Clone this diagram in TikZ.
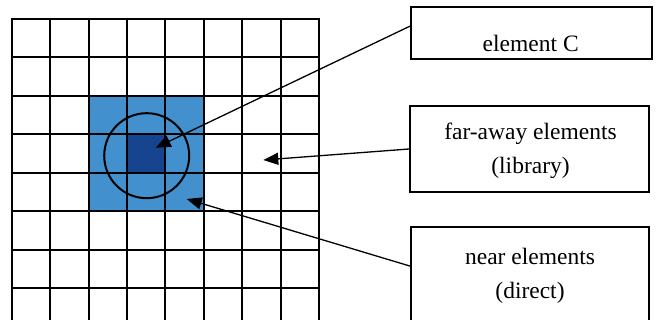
\documentclass[tikz,border=0pt]{standalone}
\usepackage{fontspec}
\setmainfont{Liberation Serif}
\usetikzlibrary{arrows.meta,calc}

\definecolor{nearblue}{RGB}{66,144,206}
\definecolor{centerblue}{RGB}{22,68,142}

\tikzset{
  gridline/.style={line width=2pt, black},
  labelbox/.style={draw=black, line width=1.8pt, rectangle, inner sep=0pt},
  labeltext/.style={font=\fontsize{23.5}{34}\selectfont, anchor=base, inner sep=0pt, align=center},
  pointer/.style={line width=1.3pt, -{Triangle[length=15pt,width=12pt]}},
  ringstyle/.style={draw=black, line width=2pt, circle, inner sep=0pt, minimum size=85pt}
}

\begin{document}
\begin{tikzpicture}[x=1pt,y=-1pt]
  \useasboundingbox (0,0) rectangle (656,320);
  \clip (0,0) rectangle (656,320);
  \fill[white] (0,0) rectangle (656,320);

  % neighbourhood cells and the central element
  \fill[nearblue] (88.52,95.9) rectangle (203.75,211.25);
  \fill[centerblue] (126.93,134.35) rectangle (165.34,172.8);

  % 8 x 8 grid of elements
  \foreach \i in {0,...,8} {
    \draw[gridline] ({11.7+38.41*\i},18) -- ({11.7+38.41*\i},330);
  }
  \foreach \j in {0,...,7} {
    \draw[gridline] (10.7,{19+38.45*\j}) -- (320,{19+38.45*\j});
  }

  % near-field radius
  \node[ringstyle] (ring) at (146.7,155.7) {};

  % explanation boxes
  \node[labelbox, minimum width=241pt, minimum height=52pt] (boxC) at (531.5,33) {};
  \node[labelbox, minimum width=239pt, minimum height=86pt] (boxF) at (529.5,149) {};
  \node[labelbox, minimum width=238pt, minimum height=113pt] (boxN) at (530,283.5) {};

  % box captions (anchor = baseline of the last line)
  \node[labeltext] (txtC) at (530.7,51.5) {element C};
  \node[labeltext] (txtF) at (530.5,174) {far-away elements\\(library)};
  \node[labeltext] (txtN) at (530,299) {near elements\\(direct)};

  % arrow targets inside the grid
  \coordinate (tipC) at (155.7,147.7);
  \coordinate (tipF) at (263.3,160);
  \coordinate (tipN) at (186.7,199);

  \draw[pointer] ($(boxC.north west)+(0,20)$) -- (tipC);
  \draw[pointer] (boxF.west) -- (tipF);
  \draw[pointer] ($(boxN.north west)+(0,40)$) -- (tipN);
\end{tikzpicture}
\end{document}
